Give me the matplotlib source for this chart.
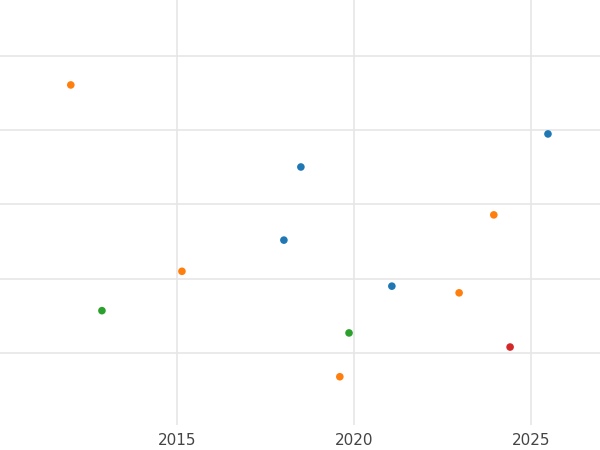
import matplotlib
matplotlib.use("Agg")
import matplotlib.pyplot as plt

years = [2012.0, 2025.48, 2018.50, 2023.95, 2018.02, 2015.14, 2021.07, 2022.97, 2012.88, 2019.86, 2024.41, 2019.60]
values = [4.61, 3.95, 3.505, 2.86, 2.52, 2.10, 1.90, 1.81, 1.57, 1.27, 1.08, 0.68]
groups = ["o", "b", "b", "o", "b", "o", "b", "o", "g", "g", "r", "o"]
palette = {"b": "#1f77b4", "o": "#ff7f0e", "g": "#2ca02c", "r": "#d62728"}

fig = plt.figure(figsize=(6, 4.5), dpi=100)
ax = fig.add_axes([0, 25/450, 1, 425/450])
ax.scatter(years, values, c=[palette[g] for g in groups], s=30, zorder=3, linewidths=0)
ax.set_xlim(2010.0, 2026.95)
ax.set_ylim(0.03, 5.754)
ax.set_xticks([2015, 2020, 2025])
ax.set_yticks([1, 2, 3, 4, 5])
ax.set_yticklabels([])
ax.grid(True, color="#e6e6e6", linewidth=1.2, zorder=0)
for s in ax.spines.values():
    s.set_visible(False)
ax.tick_params(axis="both", length=0, labelsize=11, labelcolor="#444444", pad=6)
fig.savefig("out.png", dpi=100)
